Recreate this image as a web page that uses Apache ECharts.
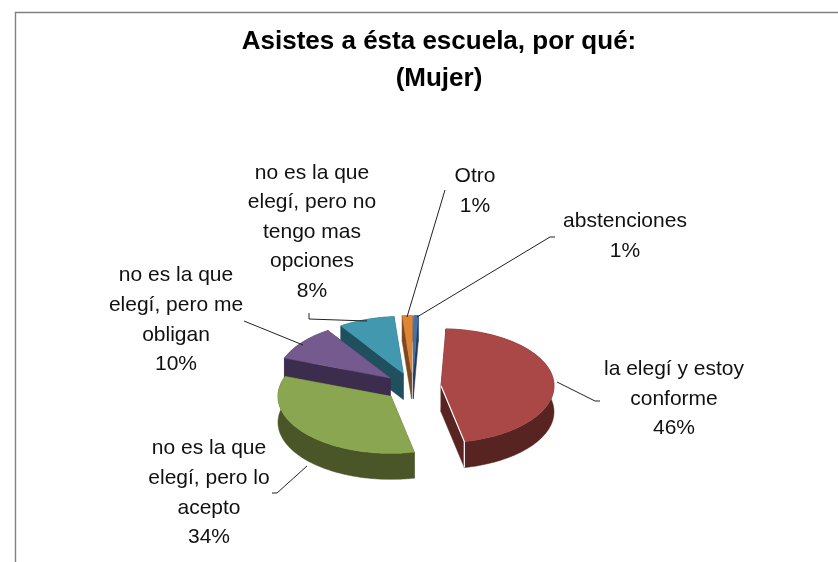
<!DOCTYPE html>
<html>
<head>
<meta charset="utf-8">
<title>Asistes a ésta escuela</title>
<style>
html, body { margin: 0; padding: 0; background: #fff; }
#chart { width: 838px; height: 562px; }
</style>
<script src="https://cdn.jsdelivr.net/npm/echarts@6/dist/echarts.min.js"></script>
</head>
<body>
<div id="chart"></div>
<script>
const categories = [
    'la elegí y estoy\nconforme',
    'no es la que\nelegí, pero lo\nacepto',
    'no es la que\nelegí, pero me\nobligan',
    'no es la que\nelegí, pero no\ntengo mas\nopciones',
    'Otro',
    'abstenciones'
];
const percentages = [46, 34, 10, 8, 1.4, 0.6];
const topColors = ['#A94846', '#8AA650', '#745A8F', '#4198AF', '#DF8538', '#4472A8'];
const wallColors = ['#572422', '#4A5528', '#3C2C4E', '#20505E', '#7A4A1E', '#233B5A'];
// slices at the back get painted first
const paintOrder = [5, 4, 3, 2, 0, 1];
const labelCenters = [[674, 399], [209, 493], [176, 320], [312, 232], [475, 191], [625, 236]];
const leaderLines = [
    [[557, 382], [595, 401], [600, 401]],
    [[307, 466], [277, 493], [272, 493]],
    [[303, 345], [244, 321]],
    [[367, 321], [309, 319], [309, 313]],
    [[407, 317], [445, 190]],
    [[417, 317], [550, 237], [555, 237]]
];

const pie = {
    cx: 412.6,      //中心
    cy: 387,
    rx: 113,        //椭圆半径
    ry: 57,
    depth: 26,      //厚度
    explode: 28.5,  //分离距离
    startAngle: 2.5
};
const labelFont = '21px "Liberation Sans", Arial, sans-serif';

const total = percentages.reduce(function (a, b) { return a + b; }, 0);

function toRad(deg) {
    return deg * Math.PI / 180;
}

function pointAt(apex, deg, dy) {
    return [apex[0] + pie.rx * Math.sin(toRad(deg)), apex[1] - pie.ry * Math.cos(toRad(deg)) + dy];
}

function renderSlice(params, api) {
    const i = params.dataIndex;
    let from = pie.startAngle;
    for (let k = 0; k < i; k++) from += percentages[k] / total * 360;
    const to = from + api.value(0) / total * 360;
    const mid = (from + to) / 2;
    const apex = [
        pie.cx + pie.explode * Math.sin(toRad(mid)),
        pie.cy - pie.explode * pie.ry / pie.rx * Math.cos(toRad(mid))
    ];
    const z = paintOrder.indexOf(i) * 10;

    let arc = [];
    for (let a = from; a < to; a += 1) arc.push(pointAt(apex, a, 0));
    arc.push(pointAt(apex, to, 0));
    const arcLow = arc.map(function (p) { return [p[0], p[1] + pie.depth]; }).reverse();
    const apexLow = [apex[0], apex[1] + pie.depth];
    const wallStyle = { fill: wallColors[i], stroke: wallColors[i], lineWidth: 0.5 };

    const children = [
        { type: 'polygon', z2: z, shape: { points: arc.concat(arcLow) }, style: wallStyle },
        { type: 'polygon', z2: z, shape: { points: [apex, arc[0], arcLow[arcLow.length - 1], apexLow] }, style: wallStyle },
        { type: 'polygon', z2: z, shape: { points: [apex, arc[arc.length - 1], arcLow[0], apexLow] }, style: wallStyle },
        { type: 'polygon', z2: z + 1, shape: { points: [apex].concat(arc) }, style: { fill: topColors[i], stroke: topColors[i], lineWidth: 0.5 } }
    ];
    if (i === 0) {
        // 红色扇区的白色高光边
        const end = arc[arc.length - 1];
        children.push({
            type: 'polyline', z2: z + 2,
            shape: { points: [apex, end, arcLow[0]] },
            style: { stroke: '#fff', lineWidth: 1.2, fill: null }
        });
    }
    children.push({
        type: 'text', z2: 200,
        style: {
            text: categories[i] + '\n' + Math.round(api.value(0)) + '%',
            x: labelCenters[i][0],
            y: labelCenters[i][1],
            align: 'center',
            verticalAlign: 'middle',
            lineHeight: 29.6,
            font: labelFont,
            fill: '#111'
        }
    });
    return { type: 'group', children: children };
}

const graphics = [{
    type: 'polyline',
    shape: { points: [[15.5, 562], [15.5, 12.5], [838, 12.5]] },
    style: { stroke: '#808080', lineWidth: 1.4, fill: null }
}];
leaderLines.forEach(function (points) {
    graphics.push({
        type: 'polyline',
        z: 10,
        shape: { points: points },
        style: { stroke: '#222', lineWidth: 1, fill: null }
    });
});

const chart = echarts.init(document.getElementById('chart'));
chart.setOption({
    animation: false,
    backgroundColor: '#fff',
    title: {
        text: 'Asistes a ésta escuela, por qué:\n(Mujer)',
        left: 434,
        top: 18,
        textAlign: 'center',
        textStyle: {
            fontFamily: '"Liberation Sans", Arial, sans-serif',
            fontSize: 26,
            fontWeight: 'bold',
            lineHeight: 37,
            color: '#000'
        }
    },
    graphic: graphics,
    series: [{
        type: 'custom',
        coordinateSystem: 'none',
        silent: true,
        data: percentages,
        renderItem: renderSlice
    }]
});
</script>
</body>
</html>
